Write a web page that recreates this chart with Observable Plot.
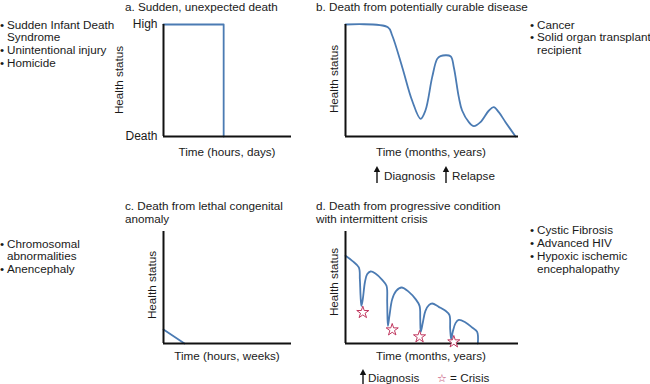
<!DOCTYPE html>
<html><head><meta charset="utf-8">
<script src="https://cdn.jsdelivr.net/npm/d3@7"></script>
<script src="https://cdn.jsdelivr.net/npm/@observablehq/plot@0.6"></script>
<style>
body{margin:0;background:#fff;}
#root{position:relative;width:650px;height:384px;overflow:hidden;font-family:"Liberation Sans",Arial,sans-serif;font-size:11.7px;color:#1a1a1a;}
.t{position:absolute;white-space:nowrap;line-height:13px;}
.p{position:absolute;}
</style></head><body><div id="root"></div><script>
// ---------- data ----------
const blue = "#4b7bb3";
const crisisColor = "#c0385f";

// panel a: sudden, unexpected death
const aX = [0, 47, 47];
const aY = [100, 100, 0];
const aTicks = [0, 100];
const aTickLabels = ["Death", "High"];

// panel b: potentially curable disease
const bX = [0, 24.5, 27.0, 32.8, 38.5, 43.4, 46.2, 50.1, 53.0, 54.9, 60.7, 62.6, 65.5, 67.4, 71.3, 74.2, 78.0, 82.9, 85.7, 88.6, 92.5, 98.3];
const bY = [100, 97.6, 90.2, 61.9, 32.1, 15.8, 23.2, 53.0, 69.3, 71.7, 71.7, 61.9, 35.1, 23.2, 12.8, 9.2, 12.8, 23.2, 26.2, 21.7, 12.8, 0];

// panel c: lethal congenital anomaly
const cX = [0, 16.4];
const cY = [12.5, 0];

// panel d: progressive condition with intermittent crisis
const dX = [0, 3.9, 7.7, 8.3, 8.7, 9.2, 10.0, 11.2, 12.5, 14.5, 17.3, 21.2, 23.7, 24.1, 24.5, 25.4, 27.0, 29.3, 32.4, 36.6, 40.5, 42.8, 43.2, 43.5, 44.7, 46.2, 48.2, 50.1, 53.9, 57.8, 60.1, 60.5, 61.1, 62.0, 63.6, 65.5, 69.4, 73.2, 76.1, 76.5];
const dY = [78.3, 73.8, 67.9, 57.4, 42.6, 33.6, 39.6, 54.5, 61.9, 64.3, 62.5, 56.8, 51.5, 36.6, 15.8, 24.7, 39.6, 47.0, 50.0, 46.1, 39.6, 33.6, 21.7, 10.4, 18.75, 29.2, 34.2, 35.7, 32.7, 29.2, 25.3, 12.8, 3.9, 10.4, 18.2, 21.1, 18.75, 14.3, 10.4, 0];
const starX = [10.0, 27.0, 42.8, 62.6];
const starY = [27.7, 12.2, 6.0, 1.5];

// texts
const titleA = ["a. Sudden, unexpected death"];
const titleB = ["b. Death from potentially curable disease"];
const titleC = ["c. Death from lethal congenital", "anomaly"];
const titleD = ["d. Death from progressive condition", "with intermittent crisis"];
const bulletsA = [["• ", "Sudden Infant Death"], ["", "Syndrome"], ["• ", "Unintentional injury"], ["• ", "Homicide"]];
const bulletsB = [["• ", "Cancer"], ["• ", "Solid organ transplant"], ["", "recipient"]];
const bulletsC = [["• ", "Chromosomal"], ["", "abnormalities"], ["• ", "Anencephaly"]];
const bulletsD = [["• ", "Cystic Fibrosis"], ["• ", "Advanced HIV"], ["• ", "Hypoxic ischemic"], ["", "encephalopathy"]];
const yLabel = "Health status";
const xLabelA = "Time (hours, days)";
const xLabelB = "Time (months, years)";
const xLabelC = "Time (hours, weeks)";
const xLabelD = "Time (months, years)";

// ---------- helpers ----------
const root = document.getElementById("root");
const rows = (xs, ys) => xs.map((x, i) => ({x, y: ys[i]}));

function text(str, x, yc, align = "left") {
  const d = document.createElement("div");
  d.className = "t";
  d.textContent = str;
  d.style.left = x + "px";
  d.style.top = (yc - 6.5) + "px";
  if (align === "center") d.style.transform = "translateX(-50%)";
  root.appendChild(d);
  return d;
}
function rotText(str, xc, yc) {
  const d = document.createElement("div");
  d.className = "t";
  d.textContent = str;
  d.style.left = xc + "px";
  d.style.top = yc + "px";
  d.style.transform = "translate(-50%,-50%) rotate(-90deg)";
  root.appendChild(d);
}
function lines(arr, x, y0, step) {
  arr.forEach((s, i) => text(s, x, y0 + i * step));
}
function bullets(arr, x, y0, step) {
  arr.forEach(([b, s], i) => {
    const d = text("", x, y0 + i * step);
    d.innerHTML = `<span style="display:inline-block;width:7px">${b ? "•" : ""}</span>` + s;
  });
}
function arrow(x, yTop, h) {
  const s = document.createElementNS("http://www.w3.org/2000/svg", "svg");
  s.setAttribute("width", 10); s.setAttribute("height", h + 2);
  s.style.position = "absolute";
  s.style.left = (x - 5) + "px"; s.style.top = yTop + "px";
  s.innerHTML = `<line x1="5" y1="3" x2="5" y2="${h + 2}" stroke="#111" stroke-width="1.4"/><path d="M1.8,6 L5,0 L8.2,6 Z" fill="#111"/>`;
  root.appendChild(s);
}
function panel(marks, axisLeft, axisTop, w, h, ml, extra = {}) {
  const mt = 8, mb = 8, mr = 8;
  const chart = Plot.plot({
    width: ml + w + mr, height: mt + h + mb,
    marginLeft: ml, marginRight: mr, marginTop: mt, marginBottom: mb,
    x: {domain: [0, 100], axis: null},
    y: {domain: [0, 100], axis: null},
    style: {background: "transparent", fontFamily: "Liberation Sans, Arial, sans-serif", fontSize: "11.7px", color: "#1a1a1a", overflow: "visible"},
    marks: [
      ...marks,
      Plot.ruleX([0], {y1: 0, y2: 100, stroke: "#111", strokeWidth: 2}),
      Plot.ruleY([0], {x1: 0, x2: 100, stroke: "#111", strokeWidth: 2}),
      ...(extra.after || [])
    ]
  });
  const d = document.createElement("div");
  d.className = "p";
  d.style.left = (axisLeft - ml) + "px";
  d.style.top = (axisTop - mt) + "px";
  d.appendChild(chart);
  root.appendChild(d);
}

// ---------- panel a ----------
panel([
  Plot.line(rows(aX, aY), {x: "x", y: "y", stroke: blue, strokeWidth: 1.8}),
  Plot.axisY(aTicks, {tickSize: 0, tickPadding: 6, tickFormat: (d, i) => aTickLabels[aTicks.indexOf(d)], label: null, fontSize: 12})
], 163, 24, 128, 112, 50);
lines(titleA, 125, 6, 13);
bullets(bulletsA, 0, 24, 12.7);
rotText(yLabel, 118, 80);
text(xLabelA, 227, 151, "center");

// ---------- panel b ----------
panel([
  Plot.line(rows(bX, bY), {x: "x", y: "y", curve: "catmull-rom", stroke: blue, strokeWidth: 1.8})
], 345, 24, 173, 112, 20);
lines(titleB, 316, 6, 13);
bullets(bulletsB, 530, 24, 12.9);
rotText(yLabel, 333, 79);
text(xLabelB, 431, 151, "center");
arrow(377, 166, 15);
text("Diagnosis", 384, 175);
arrow(446, 166, 15);
text("Relapse", 452, 175);

// ---------- panel c ----------
panel([
  Plot.line(rows(cX, cY), {x: "x", y: "y", stroke: blue, strokeWidth: 1.8})
], 163, 231, 128, 112, 20);
lines(titleC, 125, 205, 13);
bullets(bulletsC, 0, 243, 12.8);
rotText(yLabel, 151, 285);
text(xLabelC, 227, 355.5, "center");

// ---------- panel d ----------
panel([
  Plot.line(rows(dX, dY), {x: "x", y: "y", curve: "catmull-rom", stroke: blue, strokeWidth: 1.8})
], 345, 231, 173, 112, 20, {after: [
  Plot.dot(rows(starX, starY), {x: "x", y: "y", symbol: "star", r: 3.8, fill: "white", stroke: crisisColor, strokeWidth: 1})
]});
lines(titleD, 316, 205, 13);
bullets(bulletsD, 530, 229.3, 13.1);
rotText(yLabel, 333, 282);
text(xLabelD, 431, 355.5, "center");
arrow(363, 369, 16);
text("Diagnosis", 368, 377);
const st = text("", 437, 377);
st.innerHTML = `<span style="color:${crisisColor};font-family:'DejaVu Sans';font-size:11px">☆</span> = Crisis`;
</script></body></html>
